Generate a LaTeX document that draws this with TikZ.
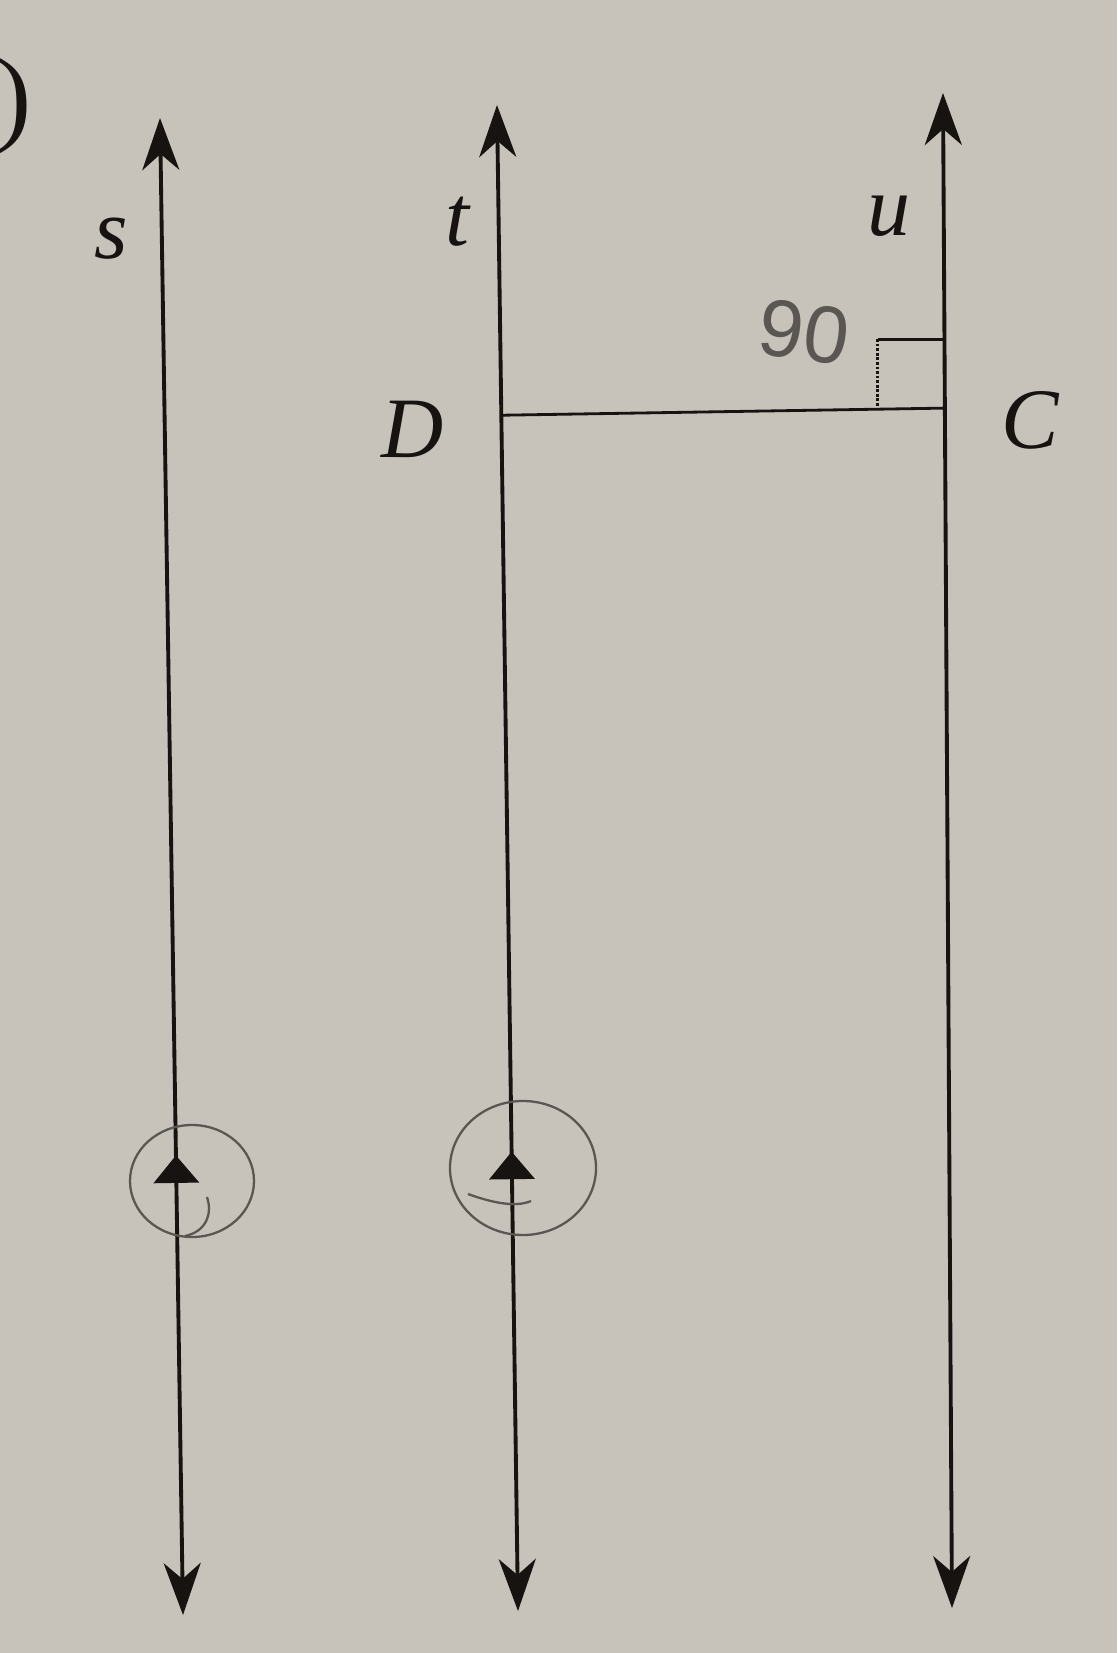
\documentclass[tikz,border=0pt]{standalone}
\usepackage{fontspec}
\setmainfont{Liberation Serif}
\newfontfamily\handfont{Liberation Sans}
\usetikzlibrary{arrows.meta,decorations.markings,calc}
\definecolor{paper}{RGB}{199,195,187}
\definecolor{ink}{RGB}{22,19,17}
\definecolor{pencil}{RGB}{90,87,82}
\tikzset{
  tip/.tip={Stealth[length=1.04cm,width=0.74cm,inset=0.32cm]},
  ray/.style={ink, line width=2.2pt, tip-tip},
  label/.style={ink, inner sep=0pt, anchor=base, font=\fontsize{49}{49}\selectfont\itshape},
  midtip/.style={postaction={decorate}, decoration={markings,
      mark=at position #1 with {\arrow{Triangle[length=0.55cm,width=0.9cm]}}}},
  handcircle/.style={pencil, line width=1.3pt},
}
\begin{document}
\begin{tikzpicture}[x=0.02cm, y=-0.02cm]
      \fill[paper] (0,0) rectangle (1117,1653);
      \useasboundingbox (0,0) rectangle (1117,1653);

      % Nodes
      \node[ink, inner sep=0pt, font=\fontsize{60}{60}\selectfont] at (14, 106) (paren) {)};
      \coordinate (s-top) at (160, 118);
      \coordinate (s-bot) at (183, 1615);
      \coordinate (t-top) at (497, 105);
      \coordinate (t-bot) at (518, 1611);
      \coordinate (u-top) at (943, 93);
      \coordinate (u-bot) at (952, 1608);
      \coordinate (D) at ($(t-top)!0.206!(t-bot)$);
      \coordinate (C) at ($(u-top)!0.208!(u-bot)$);

      \node[label] at (111, 258) (s) {s};
      \node[label] at (457, 245) (t) {t};
      \node[label] at (889, 235) (u) {u};
      \node[label] at (413, 457) (d) {D};
      \node[label] at (1030, 448) (c) {C};
      \node[pencil, inner sep=0pt, rotate=-8, font=\handfont\fontsize{46}{46}\selectfont] at (804, 332) (angle) {90};

      % Lines
      \draw[ray, midtip=0.307] (s-bot) -- (s-top);
      \draw[ray, midtip=0.305] (t-bot) -- (t-top);
      \draw[ray] (u-bot) -- (u-top);
      \draw[ink, line width=1.6pt] (D) -- (C);

      % right angle
      \draw[ink, line width=1.6pt] (C) ++(0,-69) -- ++(-67,0) coordinate (sq);
      \draw[ink, line width=1.6pt, densely dotted] (sq) -- ++(0,69);

      % pencil circles
      \draw[handcircle] (192, 1181) ellipse [x radius=62, y radius=56];
      \draw[handcircle] (207, 1197) .. controls (213, 1215) and (205, 1232) .. (185, 1236);
      \draw[handcircle] (523, 1168) ellipse [x radius=73, y radius=67];
      \draw[handcircle] (531, 1201) .. controls (515, 1208) and (490, 1202) .. (468, 1194);
    \end{tikzpicture}
\end{document}
